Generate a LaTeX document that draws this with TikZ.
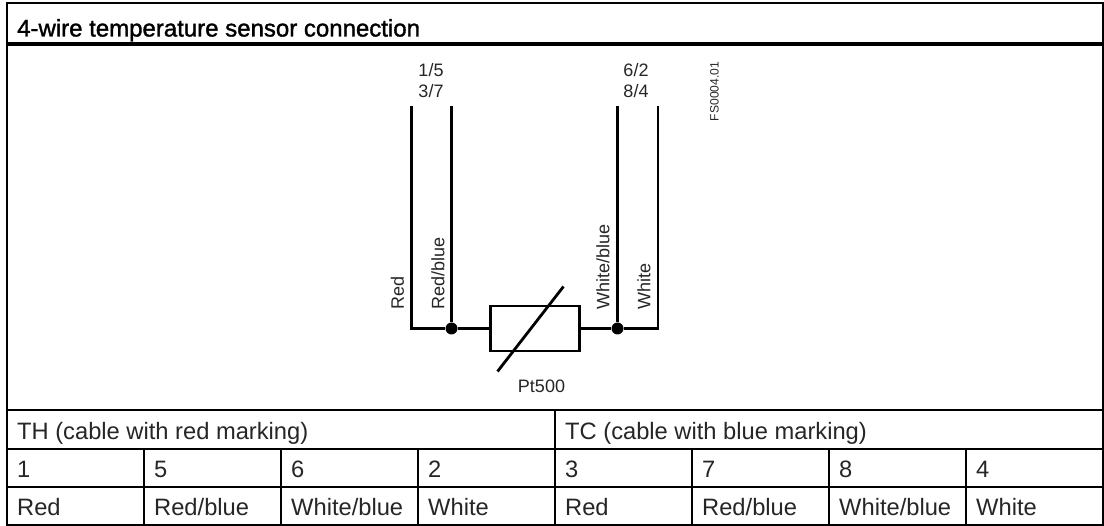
\documentclass[tikz,border=0pt]{standalone}
\usepackage{fontspec}
\setmainfont{Liberation Sans}
\newfontfamily\titlefont[FakeBold=1.4]{Liberation Sans}
\usetikzlibrary{calc}

\tikzset{
    rule/.style={black, line width=2pt},
    heavyrule/.style={black, line width=4pt},
    wire/.style={black, line width=2.8pt},
    junction/.style={circle, fill=black, inner sep=0pt, minimum size=12pt},
    cell/.style={anchor=base west, inner sep=0pt, text=black!85, font=\fontsize{23.7}{26}\selectfont},
    drawing/.style={inner sep=0pt, text=black!85, font=\fontsize{18}{20}\selectfont},
    colour/.style={drawing, rotate=90, anchor=west},
}

\begin{document}
\begin{tikzpicture}[x=1pt, y=-1pt]
    \useasboundingbox (0,0) rectangle (1104,526);
    \fill[white] (0,0) rectangle (1104,526);

    % frame and table lines
    \draw[rule] (7,3) rectangle (1103,525);
    \draw[heavyrule] (7,44.5) -- (1103,44.5);
    \draw[rule] (7,410) -- (1103,410);
    \draw[rule] (7,449) -- (1103,449);
    \draw[rule] (7,487) -- (1103,487);
    \draw[rule] (555,410) -- (555,525);
    \foreach \x in {144,281,418,692,829,966} {
        \draw[rule] (\x,449) -- (\x,525);
    }

    \node[anchor=base west, inner sep=0pt, font=\fontsize{24}{26}\titlefont] (title) at (17,36.5) {4-wire temperature sensor connection};

    % sensor
    \node[draw, line width=2.8pt, minimum width=89pt, minimum height=45pt, inner sep=0pt] (pt) at (535,328.5) {};
    \node[junction] (jl) at (451.5,328.5) {};
    \node[junction] (jr) at (617.5,328.5) {};
    \coordinate (cl) at (411.5,328.5);
    \coordinate (cr) at (658,328.5);
    \coordinate (tl) at (411.5,106.5);
    \coordinate (tm) at (451.5,106.5);
    \coordinate (tn) at (617.5,106.5);
    \coordinate (tr) at (658,106.5);
    \coordinate (sa) at (497.5,371.5);
    \coordinate (sb) at (563.5,286.5);
    \draw[wire] (tl) -- (cl) -- (jl);
    \draw[wire] (tm) -- (jl);
    \draw[wire] (jl) -- (pt);
    \draw[wire] (pt) -- (jr);
    \draw[wire] (tn) -- (jr);
    \draw[wire] (tr) -- (cr) -- (jr);
    \draw[wire] (sa) -- (sb);

    \node[drawing] (pa) at (431,70) {1/5};
    \node[drawing] (pb) at (431,91.5) {3/7};
    \node[drawing] (pc) at (636,70) {6/2};
    \node[drawing] (pd) at (636,91.5) {8/4};
    \node[drawing, rotate=90, font=\fontsize{12.1}{14}\selectfont] (fs) at (714.5,91.5) {FS0004.01};
    \node[drawing] (ptname) at (541.5,386.5) {Pt500};
    \node[colour] (ca) at (397.5,310) {Red};
    \node[colour] (cb) at (438,310) {Red/blue};
    \node[colour] (cc) at (603,310) {White/blue};
    \node[colour] (cd) at (644,310) {White};

    % table
    \node[cell] (th) at (17,439.5) {TH (cable with red marking)};
    \node[cell] (tc) at (565,439.5) {TC (cable with blue marking)};
    \node[cell] (n1) at (17,477.5) {1};
    \node[cell] (n5) at (154,477.5) {5};
    \node[cell] (n6) at (291,477.5) {6};
    \node[cell] (n2) at (428,477.5) {2};
    \node[cell] (n3) at (565,477.5) {3};
    \node[cell] (n7) at (702,477.5) {7};
    \node[cell] (n8) at (839,477.5) {8};
    \node[cell] (n4) at (976,477.5) {4};
    \node[cell] (r1) at (17,516) {Red};
    \node[cell] (r2) at (154,516) {Red/blue};
    \node[cell] (r3) at (291,516) {White/blue};
    \node[cell] (r4) at (428,516) {White};
    \node[cell] (r5) at (565,516) {Red};
    \node[cell] (r6) at (702,516) {Red/blue};
    \node[cell] (r7) at (839,516) {White/blue};
    \node[cell] (r8) at (976,516) {White};
\end{tikzpicture}
\end{document}
